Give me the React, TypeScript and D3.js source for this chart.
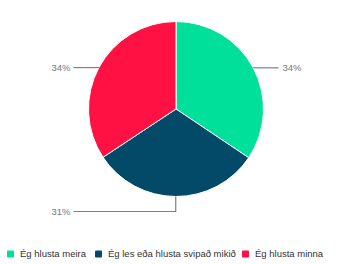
import React from "react";
import * as d3 from "d3";

const categories = ["Ég hlusta meira", "Ég les eða hlusta svipað mikið", "Ég hlusta minna"];
const values = [34.4, 31.3, 34.3];
const colors = ["#00E09A", "#024A68", "#FF1144"];

const W = 350, H = 264;
const cx = 176, cy = 109, R = 87.5;

export default function App() {
  const total = d3.sum(values);
  const pie = d3.pie<number>().sort(null).value((d) => d);
  const arcs = pie(values);
  const arcGen = d3.arc<d3.PieArcDatum<number>>().innerRadius(0).outerRadius(R);
  const fmt = (v: number) => `${Math.round((v / total) * 100)}%`;

  const labels = arcs.map((a, i) => {
    const mid = (a.startAngle + a.endAngle) / 2;
    const sx = cx + R * Math.sin(mid);
    const sy = cy - R * Math.cos(mid);
    const nearBottom = Math.abs(Math.sin(mid)) < 0.2;
    const right = Math.sin(mid) > 0.2;
    const ey = nearBottom ? cy - (R + 15) * Math.cos(mid) : sy;
    const ex = right ? cx + R + 15 : cx - R - 15;
    const pts: [number, number][] = nearBottom
      ? [[sx, sy], [sx, ey], [ex, ey]]
      : [[sx, sy], [ex, ey]];
    return { pts, ex, ey, right, text: fmt(values[i]) };
  });

  const legendX = [7, 95, 242];

  return (
    <svg width={W} height={H} style={{ position: "absolute", left: 0, top: 0 }}>
      <rect width={W} height={H} fill="#fff" />
      <g transform={`translate(${cx},${cy})`}>
        {arcs.map((a, i) => (
          <path key={i} d={arcGen(a) || ""} fill={colors[i]} stroke="#fff" strokeWidth={1} />
        ))}
      </g>
      {labels.map((l, i) => (
        <g key={i}>
          <path d={d3.line()(l.pts) || ""} fill="none" stroke="#7f7f7f" strokeWidth={1.2} />
          <text
            x={l.right ? l.ex + 4 : l.ex - 3}
            y={l.ey}
            dy="0.35em"
            textAnchor={l.right ? "start" : "end"}
            fontFamily="Liberation Sans, Arial, sans-serif"
            fontSize={9.5}
            fill="#777"
          >
            {l.text}
          </text>
        </g>
      ))}
      {categories.map((c, i) => (
        <g key={c} transform={`translate(${legendX[i]},254)`}>
          <rect x={0} y={-3.5} width={7} height={7} rx={1} fill={colors[i]} />
          <text x={13} y={0} dy="0.35em" fontFamily="Liberation Sans, Arial, sans-serif" fontSize={9.5} fill="#333">
            {c}
          </text>
        </g>
      ))}
    </svg>
  );
}
